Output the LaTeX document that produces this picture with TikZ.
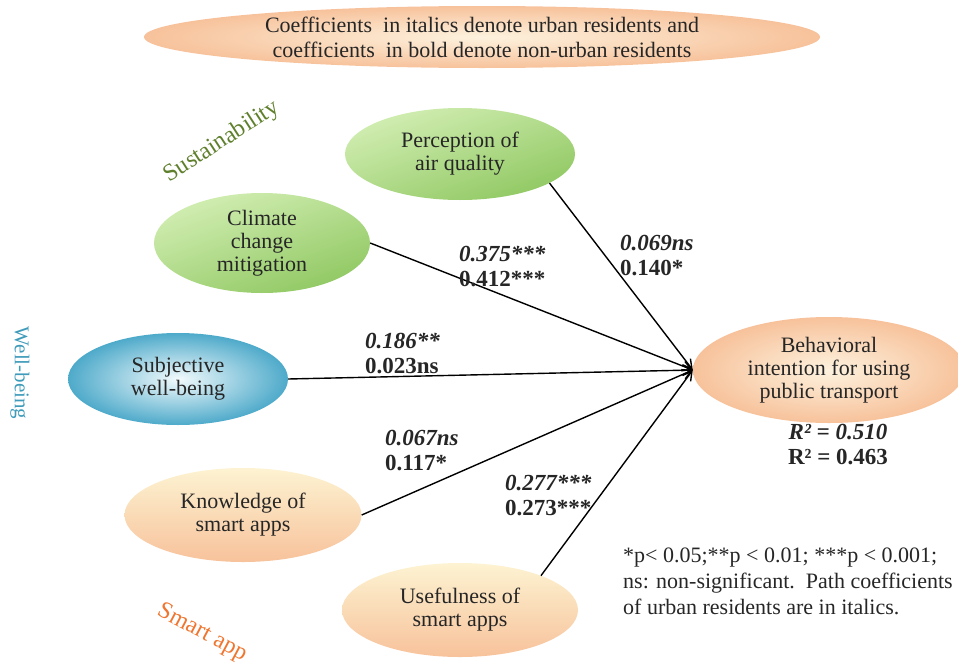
\documentclass[tikz,border=0pt]{standalone}
\usepackage{fontspec}
\setmainfont{Liberation Serif}
\usetikzlibrary{arrows.meta,positioning,shapes.geometric}

\definecolor{greenlight}{HTML}{D2EEB3}
\definecolor{greendark}{HTML}{90C862}
\definecolor{bluelight}{HTML}{F2FAFC}
\definecolor{bluedark}{HTML}{4EAACA}
\definecolor{peachlight}{HTML}{FDF2DE}
\definecolor{peachdark}{HTML}{F7C29B}
\definecolor{creamlight}{HTML}{FDF3D2}
\definecolor{sustcol}{HTML}{5F7F2C}
\definecolor{wellcol}{HTML}{3F9BBA}
\definecolor{smartcol}{HTML}{EF7630}

\begin{document}
\begin{tikzpicture}[x=1pt, y=-1pt,
    every node/.style={font=\fontsize{22}{23}\selectfont, text=black!85},
    construct/.style={ellipse, inner sep=0pt, align=center},
    greenfill/.style={top color=greenlight, bottom color=greendark, shading angle=20},
    bluefill/.style={inner color=bluelight, outer color=bluedark},
    peachfill/.style={top color=creamlight, bottom color=peachdark},
    bifill/.style={inner color=peachlight, outer color=peachdark},
    coef/.style={font=\fontsize{23}{25}\selectfont\bfseries, align=left, anchor=west, inner sep=0pt},
    group/.style={font=\fontsize{24}{26}\selectfont, inner sep=0pt},
    link/.style={line width=1.4pt, -{Straight Barb[length=9pt,width=10pt]}}]
  \useasboundingbox (0,0) rectangle (958,664);

  % banner
  \node[construct, minimum width=676, minimum height=62, bifill,
        font=\fontsize{22}{25}\selectfont] (banner) at (482,37)
        {Coefficients\ \ in italics denote urban residents and\\coefficients\ \ in bold denote non-urban residents};

  % constructs
  \node[construct, minimum width=230, minimum height=92, greenfill] (air) at (460,154) {Perception of\\air quality};
  \node[construct, minimum width=216, minimum height=100, greenfill] (climate) at (262,243) {Climate\\change\\mitigation};
  \node[construct, minimum width=220, minimum height=92, bluefill] (swb) at (178,379) {Subjective\\well-being};
  \node[construct, minimum width=237, minimum height=94, peachfill] (know) at (243,515) {Knowledge of\\smart apps};
  \node[construct, minimum width=236, minimum height=94, peachfill] (useful) at (460,610) {Usefulness of\\smart apps};
  \node[construct, minimum width=272, minimum height=106, bifill] (bi) at (829,370) {Behavioral\\intention for using\\public transport};
  \node[coef, anchor=center, align=center] (rsq) at (838,445) {\textit{R² = 0.510}\\R² = 0.463};

  % groups
  \node[group, rotate=33, text=sustcol] (sust) at (222,142) {Sustainability};
  \node[group, rotate=-90, text=wellcol, font=\fontsize{21}{22}\selectfont] (well) at (20,373) {Well-being};
  \node[group, rotate=-28, text=smartcol] (smart) at (202,633) {Smart app};

  % paths
  \draw[link] (air.-18) -- (bi.west);
  \draw[link] (climate.east) -- (bi.west);
  \draw[link] (swb.east) -- (bi.west);
  \draw[link] (know.east) -- (bi.west);
  \draw[link] (useful.23) -- (bi.west);

  \node[coef] (c-air) at (620,256) {\textit{0.069ns}\\0.140*};
  \node[coef] (c-climate) at (459,266) {\textit{0.375***}\\0.412***};
  \node[coef] (c-swb) at (365,353) {\textit{0.186**}\\0.023ns};
  \node[coef] (c-know) at (385,451) {\textit{0.067ns}\\0.117*};
  \node[coef] (c-useful) at (505,495) {\textit{0.277***}\\0.273***};

  % legend
  \node[align=left, anchor=west, inner sep=0pt, font=\fontsize{22}{26}\selectfont] (legend) at (623,581)
    {*p< 0.05;**p < 0.01; ***p < 0.001;\\ns: non-significant.\ \ Path coefficients\\of urban residents are in italics.};
\end{tikzpicture}
\end{document}
